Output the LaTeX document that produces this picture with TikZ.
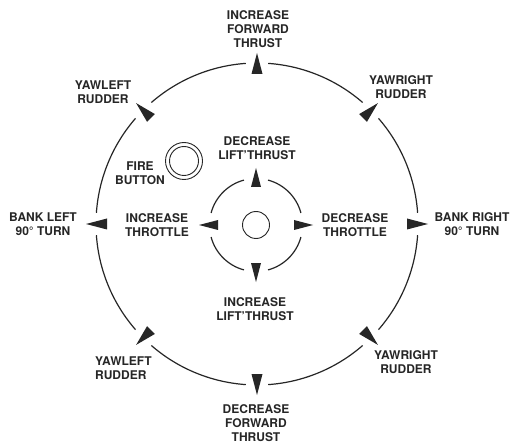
\documentclass[tikz,border=0pt]{standalone}
\usepackage{fontspec}
\setmainfont{TeX Gyre Heros}
\usetikzlibrary{calc}
\definecolor{ink}{HTML}{262626}
\begin{document}
\begin{tikzpicture}[x=1pt,y=-1pt,
  lbl/.style={anchor=north,inner sep=0pt,align=center,font=\bfseries\fontsize{12}{14}\selectfont,text=ink},
  ring/.style={draw=ink,line width=1.2pt},
  thinring/.style={draw=ink,line width=0.9pt},
  tri/.style={fill=ink}]
\fill[white] (0,0) rectangle (513,443);
\useasboundingbox (0,0) rectangle (513,443);
\coordinate (C) at (257,224);
\coordinate (I) at (256,225);
\coordinate (F) at (184,161);
% outer ring with arrows
\foreach \a in {0,45,...,315} {
  \draw[ring] ($(C)+(\a+4:161)$) arc[start angle=\a+4, end angle=\a+41, radius=161];
  \fill[tri] ($(C)+(\a:171)$) -- ($(C)+(\a:150)+(\a+90:5.5)$) -- ($(C)+(\a:150)+(\a-90:5.5)$) -- cycle;
}
% inner ring with arrows
\foreach \a in {0,90,180,270} {
  \draw[ring] ($(I)+(\a+15:46.5)$) arc[start angle=\a+15, end angle=\a+75, radius=46.5];
  \fill[tri] ($(I)+(\a:57)$) -- ($(I)+(\a:38)+(\a+90:5)$) -- ($(I)+(\a:38)+(\a-90:5)$) -- cycle;
}
\draw[thinring] (I) circle (13.5);
\draw[thinring] (F) circle (18.5);
\draw[thinring] (F) circle (14.5);
% labels
\node[lbl] (ift) at (258,10) {INCREASE\\FORWARD\\THRUST};
\node[lbl] (dft) at (256,404.5) {DECREASE\\FORWARD\\THRUST};
\node[lbl] (ylt) at (103,81) {YAWLEFT\\RUDDER};
\node[lbl] (yrt) at (401,75) {YAWRIGHT\\RUDDER};
\node[lbl,anchor=north west,align=left] (ylb) at (95,357) {YAWLEFT\\RUDDER};
\node[lbl] (yrb) at (406,350) {YAWRIGHT\\RUDDER};
\node[lbl] (bl) at (43,213) {BANK LEFT\\90° TURN};
\node[lbl] (br) at (472,212) {BANK RIGHT\\90° TURN};
\node[lbl] (it) at (157,213) {INCREASE\\THROTTLE};
\node[lbl] (dt) at (355,213) {DECREASE\\THROTTLE};
\node[lbl] (dlt) at (257,136) {DECREASE\\LIFT'THRUST};
\node[lbl] (ilt) at (255,297) {INCREASE\\LIFT'THRUST};
\node[lbl] (fb) at (140,162) {FIRE\\BUTTON};
\end{tikzpicture}
\end{document}
